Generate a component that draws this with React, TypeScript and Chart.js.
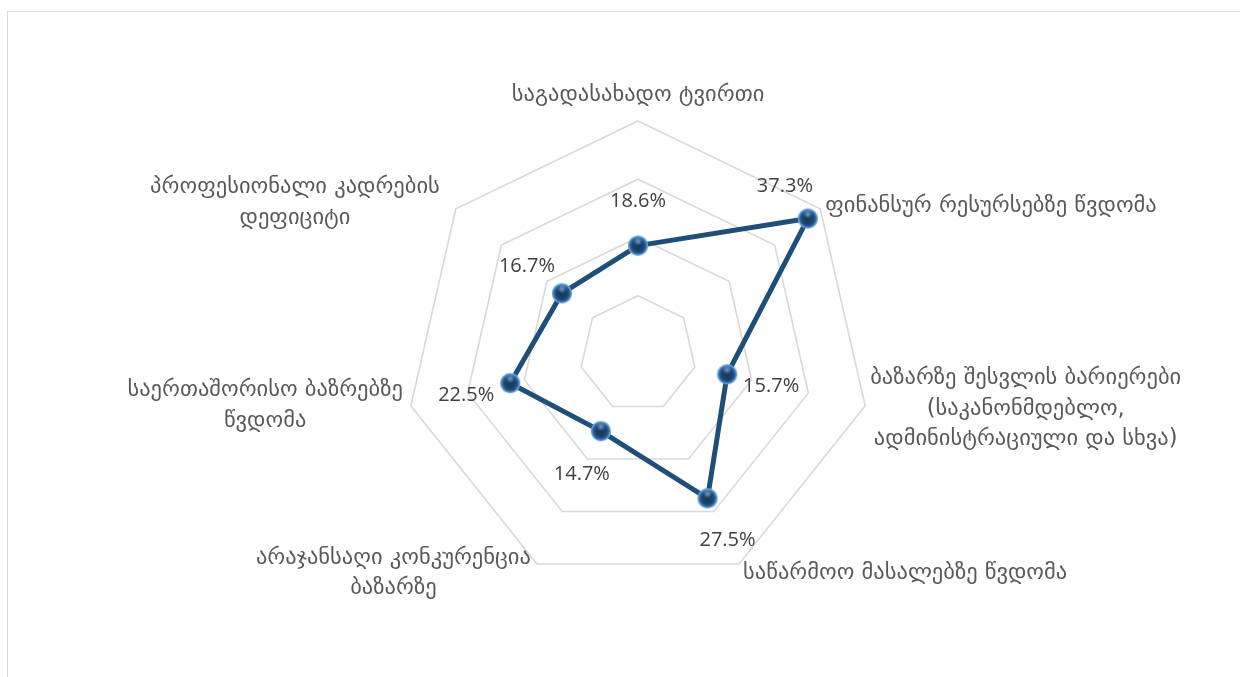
import React, { useEffect, useRef } from "react";
import { Chart, registerables } from "chart.js";

Chart.register(...registerables);

// ---- data ----
const categories: string[][] = [
  ["საგადასახადო ტვირთი"],
  ["ფინანსურ რესურსებზე წვდომა"],
  ["ბაზარზე შესვლის ბარიერები", "(საკანონმდებლო,", "ადმინისტრაციული და სხვა)"],
  ["საწარმოო მასალებზე წვდომა"],
  ["არაჯანსაღი კონკურენცია", "ბაზარზე"],
  ["საერთაშორისო ბაზრებზე", "წვდომა"],
  ["პროფესიონალი კადრების", "დეფიციტი"],
];
const values: number[] = [18.6, 37.3, 15.7, 27.5, 14.7, 22.5, 16.7];
const scaleMin = 0;
const scaleMax = 40;
const scaleStep = 10;

// ---- label layout (relative to outer vertex / point) ----
const catAlign: ("left" | "center" | "right")[] = ["center", "left", "left", "left", "right", "right", "right"];
const catDx: number[] = [0, 5, 5, 4, -6, -8, -16];
const catDy: number[] = [-26, -3, 3, 9, 9, 0, -6];
const valDx: number[] = [0, -23, 44, 20, -19, -44, -35];
const valDy: number[] = [-44, -32, 12, 42, 43, 12, -27];

const CAT_FONT = '22.5px "DejaVu Sans"';
const CAT_COLOR = "#595959";
const CAT_LINE_H = 30.5;
const VAL_FONT = '20px "Open Sans"';
const VAL_COLOR = "#404040";

function makeMarker(): HTMLCanvasElement {
  const s = 24;
  const c = document.createElement("canvas");
  c.width = s;
  c.height = s;
  const g = c.getContext("2d")!;
  const cx = s / 2, cy = s / 2, r = 9.5;
  g.beginPath();
  g.arc(cx, cy, r, 0, Math.PI * 2);
  const grad = g.createRadialGradient(cx, cy + 1, 0, cx, cy, r);
  grad.addColorStop(0, "#163556");
  grad.addColorStop(0.6, "#1d4670");
  grad.addColorStop(1, "#3f7fc0");
  g.fillStyle = grad;
  g.fill();
  g.lineWidth = 1.4;
  g.strokeStyle = "#6aa5dd";
  g.stroke();
  const hg = g.createRadialGradient(cx, cy - 4.5, 0, cx, cy - 4.5, 4.5);
  hg.addColorStop(0, "rgba(150,195,240,0.7)");
  hg.addColorStop(1, "rgba(150,195,240,0)");
  g.fillStyle = hg;
  g.beginPath();
  g.arc(cx, cy - 4.5, 4.5, 0, Math.PI * 2);
  g.fill();
  return c;
}

const labelPlugin = {
  id: "customLabels",
  afterDatasetsDraw(chart: any) {
    const ctx: CanvasRenderingContext2D = chart.ctx;
    const scale = chart.scales.r;
    ctx.save();
    // category labels
    ctx.font = CAT_FONT;
    ctx.fillStyle = CAT_COLOR;
    ctx.textBaseline = "middle";
    ctx.textAlign = "center";
    categories.forEach((lines, i) => {
      const p = scale.getPointPosition(i, scale.drawingArea);
      const ax = p.x + catDx[i];
      const ay = p.y + catDy[i];
      const w = Math.max(...lines.map((l) => ctx.measureText(l).width));
      let cx = ax;
      if (catAlign[i] === "left") cx = ax + w / 2;
      else if (catAlign[i] === "right") cx = ax - w / 2;
      const top = ay - ((lines.length - 1) * CAT_LINE_H) / 2;
      lines.forEach((l, k) => ctx.fillText(l, cx, top + k * CAT_LINE_H));
    });
    // value labels
    const meta = chart.getDatasetMeta(0);
    ctx.font = VAL_FONT;
    ctx.fillStyle = VAL_COLOR;
    meta.data.forEach((el: any, i: number) => {
      ctx.fillText(values[i].toFixed(1) + "%", el.x + valDx[i], el.y + valDy[i]);
    });
    ctx.restore();
  },
};

export default function App() {
  const ref = useRef<HTMLCanvasElement>(null);
  useEffect(() => {
    if (!ref.current) return;
    const marker = makeMarker();
    const chart = new Chart(ref.current, {
      type: "radar",
      data: {
        labels: categories.map((c) => c.join(" ")),
        datasets: [
          {
            data: values,
            borderColor: "#1f4e79",
            borderWidth: 5,
            backgroundColor: "rgba(0,0,0,0)",
            fill: false,
            pointStyle: marker as any,
            pointRadius: 10,
            pointHoverRadius: 10,
          },
        ],
      },
      options: {
        responsive: false,
        animation: false,
        devicePixelRatio: 1,
        layout: { padding: { top: 121, bottom: 89, left: 36, right: 0 } },
        plugins: { legend: { display: false }, tooltip: { enabled: false } },
        elements: { line: { tension: 0 } },
        scales: {
          r: {
            min: scaleMin,
            max: scaleMax,
            ticks: { display: false, stepSize: scaleStep },
            grid: { color: "#d9d9d9", lineWidth: 1.6, circular: false },
            angleLines: { display: false },
            pointLabels: { display: false },
          },
        },
      },
      plugins: [labelPlugin],
    });
    return () => chart.destroy();
  }, []);
  return (
    <div style={{ position: "fixed", left: 0, top: 0, width: 1240, height: 677, overflow: "hidden", background: "#fff" }}>
      <div
        style={{
          position: "absolute",
          left: 7,
          top: 11,
          width: 1400,
          height: 900,
          border: "1px solid #d9d9d9",
        }}
      />
      <canvas ref={ref} width={1240} height={677} style={{ position: "absolute", left: 0, top: 0, display: "block" }} />
    </div>
  );
}
